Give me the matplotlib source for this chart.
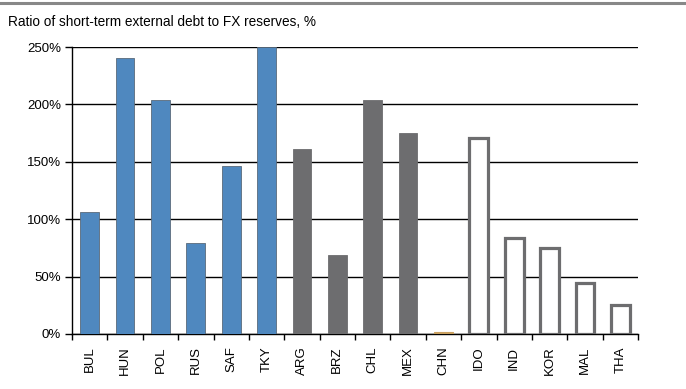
import matplotlib
matplotlib.use("Agg")
import matplotlib.pyplot as plt
from matplotlib.ticker import FuncFormatter
from matplotlib.lines import Line2D

plt.rcParams['font.family'] = ['Liberation Sans', 'DejaVu Sans']

categories = ["BUL", "HUN", "POL", "RUS", "SAF", "TKY", "ARG", "BRZ", "CHL", "MEX",
              "CHN", "IDO", "IND", "KOR", "MAL", "THA"]
values = [106, 240, 204, 79, 146, 250, 161, 69, 204, 175, 1.5, 171, 84, 75, 44, 25]
groups = ["emea"] * 6 + ["latam"] * 4 + ["china"] + ["asia"] * 5

blue = "#4F88BF"
gray = "#6D6D6F"
orange = "#C9A060"

fig = plt.figure(figsize=(6.86, 3.89), dpi=100)
ax = fig.add_axes([72/686, 1-334/389, (638-72)/686, (334-47)/389])

x = list(range(len(categories)))
for xi, v, g in zip(x, values, groups):
    if g == "emea":
        ax.bar(xi, v, width=0.53, color=blue, edgecolor="#5A6A7A", linewidth=0.6, zorder=3)
    elif g == "latam":
        ax.bar(xi, v, width=0.53, color=gray, edgecolor=gray, linewidth=0.6, zorder=3)
    elif g == "china":
        ax.bar(xi, v, width=0.53, color=orange, edgecolor=orange, linewidth=0.8, zorder=3)
    else:
        ax.bar(xi, v, width=0.53, facecolor="white", edgecolor=gray, linewidth=2.3, zorder=3)

ax.set_xlim(-0.5, len(categories) - 0.5)
ax.set_ylim(0, 250)
ax.set_yticks([0, 50, 100, 150, 200, 250])
ax.yaxis.set_major_formatter(FuncFormatter(lambda v, p: f"{int(v)}%"))
ax.yaxis.grid(True, color="black", linewidth=1.0, zorder=1)
ax.set_axisbelow(True)

ax.set_xticks([i + 0.5 for i in range(-1, len(categories))], minor=False)
ax.set_xticklabels([])
ax.set_xticks(x, minor=True)
ax.set_xticklabels(categories, minor=True, rotation=90, fontsize=9.5)
ax.tick_params(axis="x", which="major", direction="out", length=4, width=1, color="black")
ax.tick_params(axis="x", which="minor", length=0, pad=9)
ax.tick_params(axis="y", direction="out", length=5, width=1, labelsize=9.5, pad=3)

for s in ["top", "right"]:
    ax.spines[s].set_visible(False)
ax.spines["left"].set_color("black")
ax.spines["bottom"].set_color("black")
ax.spines["left"].set_linewidth(1)
ax.spines["bottom"].set_linewidth(1)

fig.text(8/686, 1-22/389, "Ratio of short-term external debt to FX reserves, %",
         fontsize=9.8, va="center", ha="left")
fig.add_artist(Line2D([0, 1], [1-3/389, 1-3/389], color="#888888", linewidth=2.2,
                      transform=fig.transFigure))

fig.savefig("out.png", dpi=100)
